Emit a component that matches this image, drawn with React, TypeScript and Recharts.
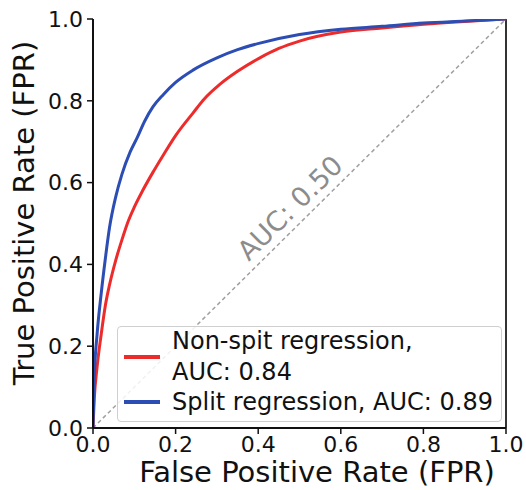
import React from "react";
import {
  Line,
  LineChart,
  ReferenceDot,
  ReferenceLine,
  XAxis,
  YAxis,
} from "recharts";

// ROC curves: false positive rate -> true positive rate
const splitFpr = [0, 0.003, 0.01, 0.02, 0.03, 0.04, 0.055, 0.07, 0.09, 0.107, 0.125, 0.145, 0.17, 0.2, 0.242, 0.3, 0.35, 0.404, 0.5, 0.6, 0.7, 0.8, 0.9, 1];
const splitTpr = [0, 0.12, 0.23, 0.33, 0.415, 0.49, 0.565, 0.62, 0.675, 0.71, 0.75, 0.785, 0.815, 0.845, 0.875, 0.905, 0.925, 0.941, 0.962, 0.975, 0.982, 0.99, 0.995, 1];

const nonSplitFpr = [0, 0.003, 0.01, 0.02, 0.03, 0.04, 0.055, 0.07, 0.085, 0.1, 0.12, 0.145, 0.17, 0.2, 0.242, 0.27, 0.307, 0.35, 0.404, 0.45, 0.5, 0.6, 0.7, 0.8, 0.9, 1];
const nonSplitTpr = [0, 0.07, 0.15, 0.23, 0.3, 0.35, 0.41, 0.46, 0.505, 0.54, 0.58, 0.625, 0.667, 0.715, 0.77, 0.805, 0.84, 0.872, 0.905, 0.928, 0.946, 0.968, 0.978, 0.987, 0.994, 1];

const axisTicks = [0, 0.2, 0.4, 0.6, 0.8, 1];

const chanceLabel = "AUC: 0.50";
const chanceLabelAt = { x: 0.477, y: 0.538 };

const series = [
  { key: "nonsplit", lines: ["Non-spit regression,", "AUC: 0.84"], color: "#ee2b2b", fpr: nonSplitFpr, tpr: nonSplitTpr },
  { key: "split", lines: ["Split regression, AUC: 0.89"], color: "#2c4db3", fpr: splitFpr, tpr: splitTpr },
];

const toPoints = (xs: number[], ys: number[]) => xs.map((x, i) => ({ x, y: ys[i] }));

const FONT = "'DejaVu Sans', sans-serif";

const tickStyle = { fontSize: 22, fill: "#111", fontFamily: FONT };

export default function App() {
  return (
    <div style={{ position: "absolute", left: 0, top: 0, width: 526, height: 490, background: "#fff" }}>
      <LineChart width={526} height={490} margin={{ top: 19, right: 20, bottom: 0, left: 0 }}>
        <XAxis
          type="number"
          dataKey="x"
          domain={[0, 1]}
          ticks={axisTicks}
          tickFormatter={(v: number) => v.toFixed(1)}
          tick={tickStyle}
          tickSize={6}
          tickMargin={2}
          height={62}
          axisLine={{ stroke: "#111", strokeWidth: 2 }}
          tickLine={{ stroke: "#111", strokeWidth: 1.5 }}
          allowDataOverflow
          label={() => (
            <text x={317} y={482} textAnchor="middle" fontSize={29} fontFamily={FONT} fill="#111">
              False Positive Rate (FPR)
            </text>
          )}
        />
        <YAxis
          type="number"
          domain={[0, 1]}
          ticks={axisTicks}
          tickFormatter={(v: number) => v.toFixed(1)}
          tick={tickStyle}
          tickSize={6}
          tickMargin={4}
          width={93}
          axisLine={{ stroke: "#111", strokeWidth: 2 }}
          tickLine={{ stroke: "#111", strokeWidth: 1.5 }}
          allowDataOverflow
          label={() => (
            <text transform="rotate(-90)" x={-213} y={34} textAnchor="middle" fontSize={29} fontFamily={FONT} fill="#111">
              True Positive Rate (FPR)
            </text>
          )}
        />
        <ReferenceLine x={1} stroke="#333" strokeWidth={2} />
        <ReferenceLine
          segment={[{ x: 0, y: 0 }, { x: 1, y: 1 }]}
          stroke="#a0a0a0"
          strokeWidth={1.5}
          strokeDasharray="4 3"
        />
        <ReferenceDot
          x={chanceLabelAt.x}
          y={chanceLabelAt.y}
          r={1}
          fill="none"
          stroke="none"
          label={(props: any) => {
            const vb = props.viewBox || {};
            const cx = (vb.x ?? 0) + (vb.width ?? 0) / 2;
            const cy = (vb.y ?? 0) + (vb.height ?? 0) / 2;
            return (
              <text
                x={cx}
                y={cy}
                dy="0.35em"
                transform={`rotate(-44.7 ${cx} ${cy})`}
                textAnchor="middle"
                fontSize={27}
                fontFamily={FONT}
                fill="#8c8c8c"
              >
                {chanceLabel}
              </text>
            );
          }}
        />
        {series.map((s) => (
          <Line
            key={s.key}
            data={toPoints(s.fpr, s.tpr)}
            dataKey="y"
            type="monotone"
            stroke={s.color}
            strokeWidth={3}
            dot={false}
            isAnimationActive={false}
          />
        ))}
      </LineChart>

      {/* legend box, lower right of the plot */}
      <div
        style={{
          position: "absolute",
          left: 117,
          top: 326,
          width: 385,
          height: 96,
          boxSizing: "border-box",
          border: "1.5px solid #cfcfcf",
          borderRadius: 4,
          background: "rgba(255,255,255,0.85)",
          fontFamily: FONT,
          fontSize: 24,
          color: "#111",
        }}
      >
        {series.map((s, i) => {
          const top = i === 0 ? -1 : 60;
          const lh = i === 0 ? 31 : 30;
          return (
            <div key={s.key} style={{ position: "absolute", left: 0, top, width: "100%" }}>
              <div
                style={{
                  position: "absolute",
                  left: 6,
                  top: (s.lines.length * lh) / 2 - 2,
                  width: 36,
                  height: 4,
                  background: s.color,
                }}
              />
              <div style={{ position: "absolute", left: 54, top: 0, lineHeight: `${lh}px`, whiteSpace: "nowrap" }}>
                {s.lines.map((t) => (
                  <div key={t}>{t}</div>
                ))}
              </div>
            </div>
          );
        })}
      </div>
    </div>
  );
}
